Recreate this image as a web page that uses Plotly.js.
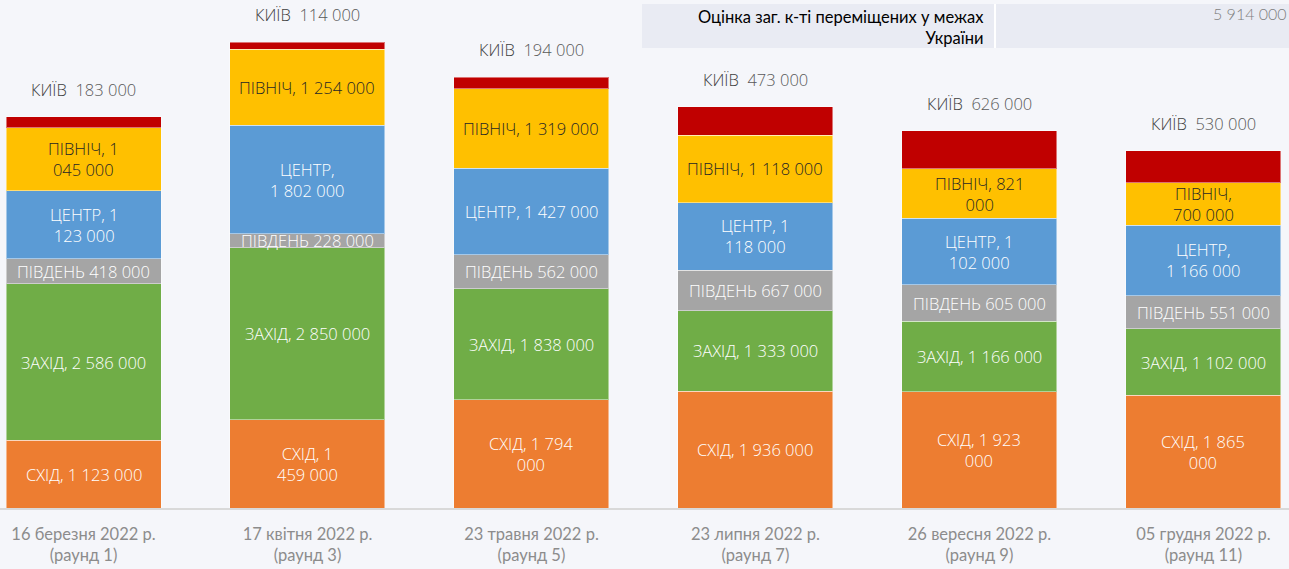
<!DOCTYPE html>
<html>
<head>
<meta charset="utf-8">
<script src="https://cdn.plot.ly/plotly-3.0.1.min.js"></script>
<style>
html,body{margin:0;padding:0;background:#F5F6FA;}
#chart{width:1289px;height:569px;}
</style>
</head>
<body>
<div id="chart"></div>
<script>
// ---- data ----
const dates = ['16 березня 2022 р.', '17 квітня 2022 р.', '23 травня 2022 р.', '23 липня 2022 р.', '26 вересня 2022 р.', '05 грудня 2022 р.'];
const rounds = ['(раунд 1)', '(раунд 3)', '(раунд 5)', '(раунд 7)', '(раунд 9)', '(раунд 11)'];
const regions = ['СХІД', 'ЗАХІД', 'ПІВДЕНЬ', 'ЦЕНТР', 'ПІВНІЧ', 'КИЇВ'];
const east   = [1123000, 1459000, 1794000, 1936000, 1923000, 1865000];
const west   = [2586000, 2850000, 1838000, 1333000, 1166000, 1102000];
const south  = [418000, 228000, 562000, 667000, 605000, 551000];
const centre = [1123000, 1802000, 1427000, 1118000, 1102000, 1166000];
const north  = [1045000, 1254000, 1319000, 1118000, 821000, 700000];
const kyiv   = [183000, 114000, 194000, 473000, 626000, 530000];
const boxTitle = 'Оцінка заг. к-ті переміщених у межах<br>України';

// ---- presentation ----
const series = [east, west, south, centre, north, kyiv];
const colors = ['#ED7D31', '#70AD47', '#A5A5A5', '#5B9BD5', '#FFC000', '#C00000'];
const textColors = ['#FFFFFF', '#FFFFFF', '#FFFFFF', '#FFFFFF', '#262626', '#404040'];
const seps = [', ', ', ', ' ', ', ', ', ', '  '];
// line wrapping of labels: -1 none, 0 after name, k after k digit groups
const wraps = [
  [-1, 1, 2, -1, 2, 2],
  [-1, -1, -1, -1, -1, -1],
  [-1, -1, -1, -1, -1, -1],
  [1, 0, -1, 1, 1, 0],
  [1, -1, -1, -1, 1, 0],
  [-1, -1, -1, -1, -1, -1]
];
const xs = dates.map((d, i) => i);
const ticktext = dates.map((d, i) => d + '<br>' + rounds[i]);
const LBL = '"Open Sans", sans-serif';

function fmt(v) {
  return String(v).replace(/\B(?=(\d{3})+(?!\d))/g, ' ');
}
function label(name, sep, v, w) {
  const groups = fmt(v).split(' ');
  if (w < 0) return name + sep + groups.join(' ');
  if (w === 0) return name + sep.trimEnd() + '<br>' + groups.join(' ');
  return name + sep + groups.slice(0, w).join(' ') + '<br>' + groups.slice(w).join(' ');
}

const traces = series.map((arr, s) => ({
  type: 'bar',
  x: xs,
  y: arr,
  name: regions[s],
  marker: {color: colors[s], line: {color: 'rgba(255,255,255,0.45)', width: 1}},
  width: 0.692,
  hoverinfo: 'skip',
  showlegend: false
}));

const annotations = [];
xs.forEach(i => {
  let cum = 0;
  series.forEach((arr, s) => {
    const v = arr[i];
    if (s < 5) {
      annotations.push({
        x: i, y: cum + v / 2, xref: 'x', yref: 'y',
        text: label(regions[s], seps[s], v, wraps[s][i]),
        showarrow: false,
        font: {family: LBL, size: 16.5, color: textColors[s], weight: 300},
        align: 'center'
      });
    } else {
      annotations.push({
        x: i, y: cum + v, xref: 'x', yref: 'y',
        text: '<span style="color:#404040">' + regions[s] + '</span>  <span style="color:#595959">' + fmt(v) + '</span>',
        showarrow: false, yanchor: 'bottom', yshift: 14,
        font: {family: LBL, size: 16.5, color: '#404040', weight: 300}
      });
    }
    cum += v;
  });
});

const lastTotal = series.reduce((a, arr) => a + arr[arr.length - 1], 0);
annotations.push({
  xref: 'paper', yref: 'paper', x: 986 / 1289, y: (508 - 27) / 508,
  text: boxTitle, showarrow: false, xanchor: 'right', yanchor: 'middle', align: 'right',
  font: {family: 'Lato, sans-serif', size: 16.5, color: '#000000'}
});
annotations.push({
  xref: 'paper', yref: 'paper', x: 1, y: (508 - 14) / 508,
  text: fmt(lastTotal), showarrow: false, xanchor: 'right', yanchor: 'middle',
  font: {family: 'Lato, sans-serif', size: 16, color: '#7F7F7F', weight: 300}
});

const layout = {
  width: 1289, height: 569,
  margin: {l: 0, r: 0, t: 0, b: 61},
  paper_bgcolor: '#F5F6FA', plot_bgcolor: '#F5F6FA',
  barmode: 'stack',
  bargap: 0,
  xaxis: {
    range: [-0.3728, 5.382],
    tickmode: 'array', tickvals: xs, ticktext: ticktext,
    tickfont: {family: 'Lato, sans-serif', size: 16.5, color: '#8C8C8C'},
    ticklabelstandoff: 10,
    showline: true, linecolor: '#D9D9D9', linewidth: 2,
    showgrid: false, zeroline: false, ticks: '', fixedrange: true
  },
  yaxis: {
    range: [0, 8410000], visible: false, showgrid: false, zeroline: false, fixedrange: true
  },
  shapes: [
    {type: 'rect', xref: 'paper', yref: 'paper', x0: 642 / 1289, x1: 1, y0: (508 - 48) / 508, y1: (508 - 4) / 508,
     fillcolor: '#E9EBF3', line: {width: 0}, layer: 'below'},
    {type: 'line', xref: 'paper', yref: 'paper', x0: 995 / 1289, x1: 995 / 1289, y0: (508 - 48) / 508, y1: (508 - 4) / 508,
     line: {color: '#FFFFFF', width: 2}}
  ],
  annotations: annotations
};

Plotly.newPlot('chart', traces, layout, {displayModeBar: false, staticPlot: true});
</script>
</body>
</html>
